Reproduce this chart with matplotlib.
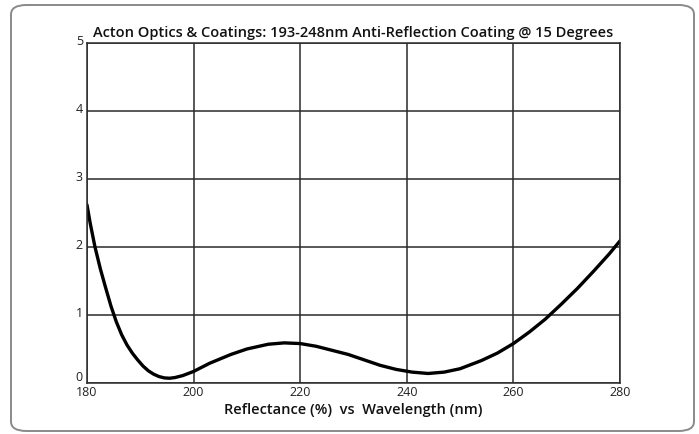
import matplotlib
matplotlib.use("Agg")
import matplotlib.pyplot as plt
from matplotlib.patches import FancyBboxPatch
from matplotlib.transforms import ScaledTranslation

wavelength = [180, 180.6, 181.5, 182.5, 183.5, 184.5, 185.5, 186.5, 187.5, 188.5, 189.5,
              190.5, 191.5, 192.5, 193.5, 194.5, 195.5, 196.5, 198, 200, 203, 207, 210,
              214, 217, 220, 223, 226, 229, 232, 235, 238, 241, 244, 247, 250, 254, 257,
              260, 263, 266, 269, 272, 275, 278, 280]
reflectance = [2.62, 2.35, 2.00, 1.68, 1.40, 1.13, 0.90, 0.71, 0.56, 0.44, 0.34, 0.25,
               0.18, 0.13, 0.095, 0.075, 0.07, 0.08, 0.11, 0.17, 0.29, 0.42, 0.50, 0.57,
               0.59, 0.58, 0.54, 0.48, 0.42, 0.34, 0.26, 0.20, 0.16, 0.14, 0.16, 0.21,
               0.33, 0.44, 0.58, 0.75, 0.94, 1.16, 1.39, 1.64, 1.90, 2.09]
x_ticks = [180, 200, 220, 240, 260, 280]
y_ticks = [0, 1, 2, 3, 4, 5]
title = "Acton Optics & Coatings: 193-248nm Anti-Reflection Coating @ 15 Degrees"
xlabel = "Reflectance (%)  vs  Wavelength (nm)"

plt.rcParams['font.family'] = ['Open Sans', 'DejaVu Sans']

fig = plt.figure(figsize=(6.99, 4.34), dpi=100)
fig.patch.set_facecolor("white")

# rounded border
border = FancyBboxPatch((11/699, 1 - 431/434), (694-11)/699, (431-5)/434,
                        boxstyle="round,pad=0,rounding_size=0.022",
                        transform=fig.transFigure, fill=False,
                        edgecolor="#8a8a8a", linewidth=1.4)
fig.patches.append(border)

ax = fig.add_axes([87/699, 1 - 383/434, (620-87)/699, (383-43)/434])
ax.plot(wavelength, reflectance, color="black", linewidth=2.4,
        solid_capstyle="round", solid_joinstyle="round")
ax.set_xlim(180, 280)
ax.set_ylim(0, 5)
ax.set_xticks(x_ticks)
ax.set_yticks(y_ticks)
ax.grid(True, color="#2a2a2a", linewidth=1.1)
ax.set_axisbelow(True)
for s in ax.spines.values():
    s.set_color("#2a2a2a")
    s.set_linewidth(1.1)
ax.tick_params(axis="y", length=0, labelsize=9, colors="#222222", pad=3)
ax.tick_params(axis="x", length=0, labelsize=9, colors="#222222", pad=2.5)
ax.set_title(title, fontsize=10.5, color="#111111", pad=4, fontweight="semibold")
ax.set_xlabel(xlabel, fontsize=10.5, color="#111111", labelpad=2.5, fontweight="semibold")

for lab, v in zip(ax.get_yticklabels(), y_ticks):
    dy = 7 if v == 0 else 3
    lab.set_transform(lab.get_transform() + ScaledTranslation(0, dy/100, fig.dpi_scale_trans))

fig.savefig("out.png", dpi=100, facecolor="white")
